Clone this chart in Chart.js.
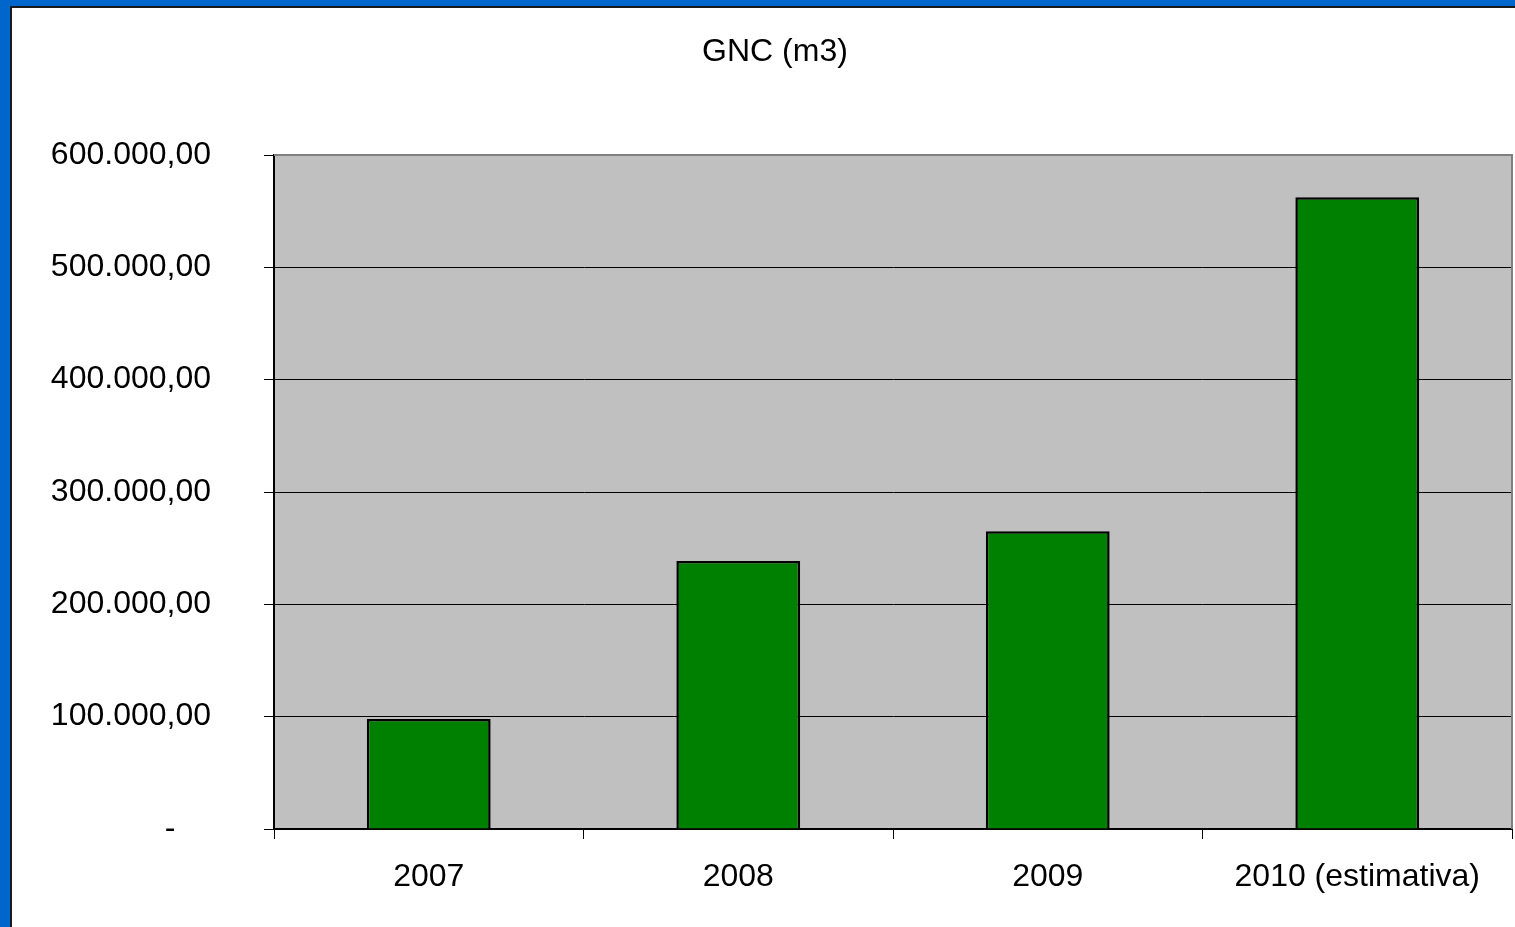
<!DOCTYPE html>
<html>
<head>
<meta charset="utf-8">
<title>GNC (m3)</title>
<script src="https://cdn.jsdelivr.net/npm/chart.js@4/dist/chart.umd.min.js"></script>
<style>
    html, body { margin: 0; padding: 0; }
    body { width: 1515px; height: 927px; background: #0066cc; position: relative; overflow: hidden; }
    #sheet { position: absolute; left: 10px; top: 6px; right: 0; bottom: 0; background: #fff;
             border-left: 2px solid #1a1a1a; border-top: 2px solid #1a1a1a; }
    #chart { position: absolute; left: 0; top: 0; }
</style>
</head>
<body>
<div id="sheet"></div>
<canvas id="chart" width="1515" height="927"></canvas>
<script>
// data
const chartTitle = 'GNC (m3)';
const years = ['2007', '2008', '2009', '2010 (estimativa)'];
const gncVolume = [98000, 238500, 265000, 562500];
const yTicks = [0, 100000, 200000, 300000, 400000, 500000, 600000];

// 600000 -> "600.000,00", 0 -> "-" (accounting style)
function formatBR(v) {
    if (v === 0) return '-\u2007\u2007';
    const whole = Math.round(v).toString().replace(/\B(?=(\d{3})+(?!\d))/g, '.');
    return whole + ',00';
}

const fontFamily = '"Liberation Sans", Arial, sans-serif';

// grey plot background + grey top/right frame
const plotFrame = {
    id: 'plotFrame',
    beforeDraw(chart) {
        const { ctx, chartArea: a } = chart;
        ctx.save();
        ctx.fillStyle = '#c0c0c0';
        ctx.fillRect(a.left, a.top, a.right - a.left, a.bottom - a.top);
        ctx.restore();
    },
    afterDatasetsDraw(chart) {
        const { ctx, chartArea: a } = chart;
        ctx.save();
        ctx.strokeStyle = '#808080';
        ctx.lineWidth = 2;
        ctx.beginPath();
        ctx.moveTo(a.left, a.top);
        ctx.lineTo(a.right, a.top);
        ctx.lineTo(a.right, a.bottom);
        ctx.stroke();
        ctx.restore();
    }
};

Chart.defaults.font.family = fontFamily;
Chart.defaults.color = '#000';

new Chart(document.getElementById('chart'), {
    type: 'bar',
    data: {
        labels: years,
        datasets: [{
            data: gncVolume,
            backgroundColor: '#008000',
            borderColor: '#000',
            borderWidth: 2.5,
            barPercentage: 0.4,
            categoryPercentage: 1
        }]
    },
    options: {
        responsive: false,
        animation: false,
        devicePixelRatio: 1,
        // left padding shifts the title centre to where the original sits
        layout: { padding: { left: 38, right: 3, top: 0, bottom: 0 } },
        plugins: {
            legend: { display: false },
            tooltip: { enabled: false },
            title: {
                display: true,
                text: chartTitle,
                color: '#000',
                font: { size: 32, weight: 'normal', family: fontFamily },
                padding: { top: 33, bottom: 83.6 }
            }
        },
        scales: {
            x: {
                offset: true,
                grid: {
                    offset: true,
                    drawOnChartArea: false,
                    drawTicks: true,
                    tickLength: 10,
                    color: '#000',
                    lineWidth: 1
                },
                border: { display: true, color: '#000', width: 2 },
                ticks: {
                    color: '#000',
                    padding: 19,
                    maxRotation: 0,
                    font: { size: 32, family: fontFamily }
                },
                afterFit(scale) { scale.height = 98; }
            },
            y: {
                min: 0,
                max: 600000,
                afterBuildTicks(scale) { scale.ticks = yTicks.map(v => ({ value: v })); },
                grid: {
                    color: ctx => (ctx.tick && ctx.tick.value === 600000 ? '#808080' : '#000'),
                    lineWidth: 1,
                    drawTicks: true,
                    tickLength: 10,
                    tickColor: '#000'
                },
                border: { display: true, color: '#000', width: 2 },
                ticks: {
                    color: '#000',
                    padding: 53,
                    font: { size: 32, family: fontFamily },
                    callback: v => formatBR(v)
                },
                afterFit(scale) { scale.width = 236; }
            }
        }
    },
    plugins: [plotFrame]
});
</script>
</body>
</html>
